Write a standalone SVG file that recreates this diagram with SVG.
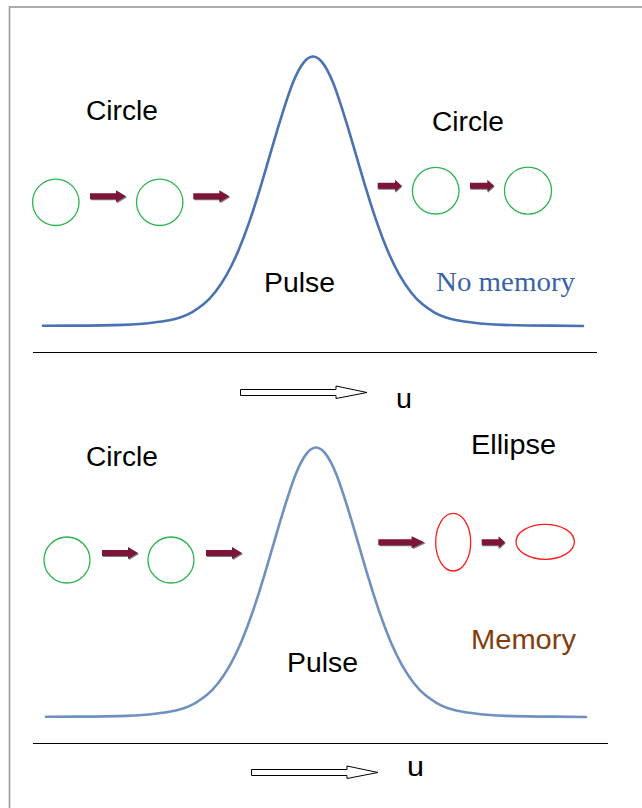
<svg xmlns="http://www.w3.org/2000/svg" width="642" height="808" viewBox="0 0 642 808">
  <style>
    .lbl { font-family: "Liberation Sans", Arial, sans-serif; font-size: 27px; fill: #000; }
    .ser { font-family: "Liberation Serif", "Times New Roman", serif; font-size: 28px; fill: #3a62a7; }
    .mem { fill: #843c0c; }
    .ring { fill: none; stroke: #2db34f; stroke-width: 1.3; }
    .oval { fill: none; stroke: #ff1a1a; stroke-width: 1.3; }
    .axis { stroke: #000; stroke-width: 1.2; }
    .hollow { fill: #fff; stroke: #000; stroke-width: 1; }
    .pulse { fill: none; stroke-width: 2.6; stroke-linejoin: round; stroke-linecap: round; }
  </style>
  <defs>
    <!-- solid maroon block arrow with a grey drop edge, 36 long -->
    <g id="blk">
      <path d="M1,-2 H27 V-5 L37,1 L27,7 V4 H1 Z" fill="#7a7a7a"/>
      <path d="M0,-3 H26 V-6 L36,0 L26,6 V3 H0 Z" fill="#7c1538"/>
    </g>
    <filter id="soft" x="-5%" y="-5%" width="110%" height="110%">
      <feGaussianBlur stdDeviation="0.7"/>
    </filter>
    <!-- bell-shaped pulse, peak at x=313, smoothed through segment midpoints -->
    <path id="bell" d="M43,325.8 L74.5,325.65 Q106,325.5 123.25,324.85 Q140.5,324.2 152,322.75 Q163.5,321.3 169.25,320.25 Q175,319.2 180.75,317.3 Q186.5,315.4 192.25,312.1 Q198,308.8 203.75,304.1 Q209.5,299.4 215.25,292 Q221,284.6 226.75,274.55 Q232.5,264.5 238.25,250.95 Q244,237.4 249.75,220.6 Q255.5,203.8 261.25,184.6 Q267,165.4 272.75,145.45 Q278.5,125.5 284.25,107.7 Q290,89.9 292.875,82.8 Q295.75,75.7 298.625,70.35 Q301.5,65 304.375,61.6 Q307.25,58.2 310.125,57.1 Q313,56 315.875,57.1 Q318.75,58.2 321.625,61.6 Q324.5,65 327.375,70.35 Q330.25,75.7 333.125,82.8 Q336,89.9 341.75,107.7 Q347.5,125.5 353.25,145.45 Q359,165.4 364.75,184.6 Q370.5,203.8 376.25,220.6 Q382,237.4 387.75,250.95 Q393.5,264.5 399.25,274.55 Q405,284.6 410.75,292 Q416.5,299.4 422.25,304.1 Q428,308.8 433.75,312.1 Q439.5,315.4 445.25,317.3 Q451,319.2 456.75,320.25 Q462.5,321.3 474,322.75 Q485.5,324.2 502.75,324.85 Q520,325.5 551.5,325.65 L583,326"/>
  </defs>

  <rect width="642" height="808" fill="#fff"/>
  <!-- page frame -->
  <rect x="9.5" y="7" width="700" height="900" fill="none" stroke="#9a9a9a" stroke-width="1.6"/>

  <!-- upper panel -->
  <g id="upper-pulse">
    <use href="#bell" class="pulse" stroke="#4a72b3"/>
    <text class="lbl" x="264" y="292" textLength="71" lengthAdjust="spacingAndGlyphs">Pulse</text>
  </g>
  <g id="upper-left-label"><text class="lbl" x="86" y="120" textLength="72" lengthAdjust="spacingAndGlyphs">Circle</text></g>
  <g id="upper-right-label"><text class="lbl" x="432" y="131" textLength="72" lengthAdjust="spacingAndGlyphs">Circle</text></g>
  <g id="no-memory"><text class="ser" x="436" y="291" textLength="139" lengthAdjust="spacingAndGlyphs">No memory</text></g>
  <g id="circle-a"><circle class="ring" cx="55.8" cy="202.3" r="23.2"/></g>
  <g id="circle-b"><circle class="ring" cx="159.7" cy="202.3" r="23.2"/></g>
  <g id="circle-c"><circle class="ring" cx="435.7" cy="190.7" r="23.3"/></g>
  <g id="circle-d"><circle class="ring" cx="528" cy="190.7" r="23.5"/></g>

  <!-- lower panel -->
  <g id="lower-pulse">
    <use href="#bell" class="pulse" stroke="#7090c0" transform="translate(3,391)" filter="url(#soft)"/>
    <text class="lbl" x="287" y="672" textLength="71" lengthAdjust="spacingAndGlyphs">Pulse</text>
  </g>
  <g id="lower-left-label"><text class="lbl" x="86" y="466" textLength="72" lengthAdjust="spacingAndGlyphs">Circle</text></g>
  <g id="ellipse-label"><text class="lbl" x="471" y="454" textLength="85" lengthAdjust="spacingAndGlyphs">Ellipse</text></g>
  <g id="memory"><text class="lbl mem" x="471" y="649" textLength="105" lengthAdjust="spacingAndGlyphs">Memory</text></g>
  <g id="circle-e"><circle class="ring" cx="67" cy="560" r="23"/></g>
  <g id="circle-f"><circle class="ring" cx="171" cy="560" r="23"/></g>
  <g id="ellipse-tall"><ellipse class="oval" cx="453.2" cy="542.2" rx="17.5" ry="28.8"/></g>
  <g id="ellipse-wide"><ellipse class="oval" cx="545.2" cy="541.8" rx="29.2" ry="17.5"/></g>

  <!-- axes and direction markers -->
  <g id="axis-upper">
    <line class="axis" x1="33" y1="352.5" x2="597" y2="352.5"/>
    <path class="hollow" d="M240.5,389.5 H336 V386 L367,392.5 L336,398.5 V395.5 H240.5 Z"/>
    <text class="lbl" x="396" y="408" textLength="16" lengthAdjust="spacingAndGlyphs">u</text>
  </g>
  <g id="axis-lower">
    <line class="axis" x1="33" y1="743.5" x2="608" y2="743.5"/>
    <path class="hollow" d="M251.5,769.5 H347 V766 L378,772.5 L347,778.5 V775.5 H251.5 Z"/>
    <text class="lbl" x="407" y="776" textLength="17" lengthAdjust="spacingAndGlyphs">u</text>
  </g>

  <!-- connectors -->
  <g id="connectors">
    <use href="#blk" x="90" y="196.3"/>
    <use href="#blk" x="193.3" y="196.3"/>
    <use href="#blk" x="377.7" y="185.8" transform="translate(377.7,185.8) scale(0.667,1) translate(-377.7,-185.8)"/>
    <use href="#blk" x="470" y="185.8" transform="translate(470,185.8) scale(0.667,1) translate(-470,-185.8)"/>
    <use href="#blk" x="102" y="553"/>
    <use href="#blk" x="206" y="553"/>
    <use href="#blk" x="378.3" y="542.3" transform="translate(378.3,542.3) scale(1.28,1) translate(-378.3,-542.3)"/>
    <use href="#blk" x="481.7" y="542.3" transform="translate(481.7,542.3) scale(0.65,1) translate(-481.7,-542.3)"/>
  </g>
</svg>
